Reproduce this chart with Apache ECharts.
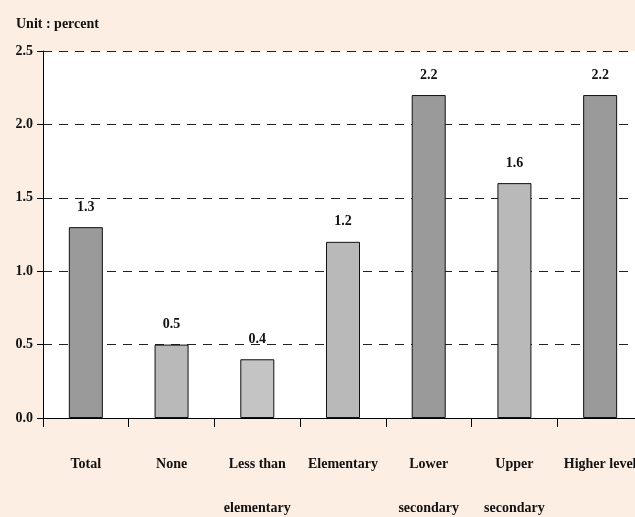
<!DOCTYPE html>
<html>
<head>
<meta charset="utf-8">
<script src="https://cdn.jsdelivr.net/npm/echarts@6/dist/echarts.min.js"></script>
<style>
  html, body { margin: 0; padding: 0; background: #fdeee3; }
  #chart { width: 635px; height: 517px; }
</style>
</head>
<body>
<div id="chart"></div>
<script>
const categories = ['Total', 'None', 'Less than\nelementary', 'Elementary', 'Lower\nsecondary', 'Upper\nsecondary', 'Higher level'];
const values = [1.3, 0.5, 0.4, 1.2, 2.2, 1.6, 2.2];
const yTicks = [0, 0.5, 1.0, 1.5, 2.0, 2.5];

// shading per bar (dark / light / striped light)
const barColors = ['#9a9a9a', '#b9b9b9', '#c4c4c4', '#b9b9b9', '#9a9a9a', '#b9b9b9', '#9a9a9a'];

const font = '"Liberation Serif", "Times New Roman", serif';

const chart = echarts.init(document.getElementById('chart'));

chart.setOption({
  backgroundColor: '#fdeee3',
  animation: false,
  title: {
    text: 'Unit : percent',
    left: 11,
    top: 12,
    textStyle: { fontFamily: font, fontWeight: 'bold', fontSize: 14, color: '#111' }
  },
  grid: {
    left: 43,
    top: 51,
    width: 600,
    height: 367,
    outerBoundsMode: 'none',
    containLabel: false,
    show: true,
    backgroundColor: '#ffffff',
    borderWidth: 0
  },
  xAxis: {
    type: 'category',
    data: categories,
    axisLine: { lineStyle: { color: '#000', width: 1 } },
    axisTick: { show: true, alignWithLabel: false, length: 9, lineStyle: { color: '#000' } },
    axisLabel: {
      interval: 0,
      margin: 24,
      fontFamily: font,
      fontWeight: 'bold',
      fontSize: 14,
      lineHeight: 44,
      color: '#111'
    }
  },
  yAxis: {
    type: 'value',
    min: 0,
    max: yTicks[yTicks.length - 1],
    interval: 0.5,
    axisLine: { show: true, lineStyle: { color: '#000', width: 1 } },
    axisTick: { show: true, length: 6, lineStyle: { color: '#000' } },
    axisLabel: {
      margin: 10,
      fontFamily: font,
      fontWeight: 'bold',
      fontSize: 14,
      color: '#111',
      formatter: v => v.toFixed(1)
    },
    splitLine: { show: true, lineStyle: { color: '#222', type: [9, 7], width: 1 } }
  },
  series: [
    {
      type: 'bar',
      data: values.map((v, i) => ({
        value: v,
        itemStyle: { color: barColors[i] }
      })),
      barWidth: 34,
      itemStyle: { borderColor: '#111', borderWidth: 1 },
      label: {
        show: true,
        position: 'top',
        distance: 13,
        fontFamily: font,
        fontWeight: 'bold',
        fontSize: 14,
        color: '#111',
        formatter: p => p.value.toFixed(1)
      }
    }
  ]
});
</script>
</body>
</html>
